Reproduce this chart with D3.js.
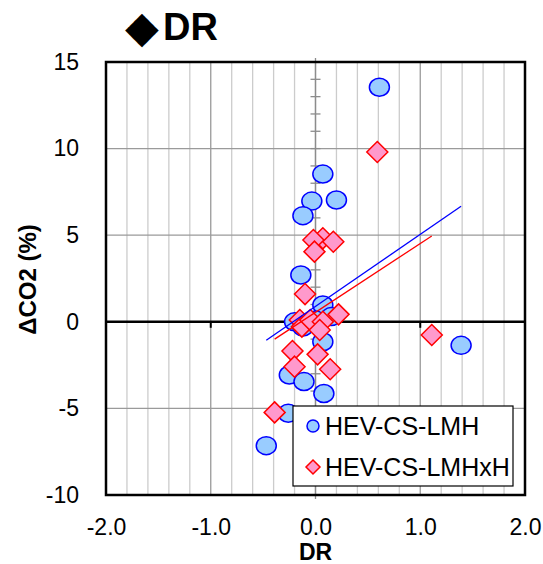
<!DOCTYPE html>
<html>
<head>
<meta charset="utf-8">
<script src="https://cdn.jsdelivr.net/npm/d3@7"></script>
<style>
	body { margin: 0; background: #fff; }
	text { font-family: "Liberation Sans", Arial, sans-serif; }
</style>
</head>
<body>
<svg id="chart" width="543" height="564"></svg>
<script>
// HEV-CS-LMH (circles)
let lmhX = [0.61, 0.07, 0.20, -0.035, -0.12, -0.14, 0.07, -0.20, -0.12, 0.00, 0.15, 0.07, -0.25, -0.11, 0.08, -0.26, -0.47, 1.39];
let lmhY = [13.54, 8.53, 7.03, 6.97, 6.13, 2.70, 0.97, 0.00, -0.30, 0.10, 0.30, -1.15, -3.07, -3.45, -4.14, -5.28, -7.15, -1.36];

// HEV-CS-LMHxH (diamonds)
let lmhxhX = [0.59, 0.07, -0.02, 0.17, -0.01, -0.10, -0.15, -0.13, -0.05, 0.07, 0.22, 0.04, 1.11, -0.22, 0.02, -0.20, 0.14, -0.39];
let lmhxhY = [9.80, 4.82, 4.72, 4.62, 4.05, 1.60, 0.10, -0.28, 0.10, 0.00, 0.43, -0.47, -0.76, -1.69, -1.88, -2.59, -2.74, -5.23];

// linear trend lines: [LMH, LMHxH]
let trendSlope = [4.16, 3.97];
let trendIntercept = [0.89, 0.55];

let seriesNames = ["HEV-CS-LMH", "HEV-CS-LMHxH"];
let xTickLabels = [-2, -1, 0, 1, 2];
let yTickLabels = [-10, -5, 0, 5, 10, 15];

let size = { w: 543, h: 564 };
let plot = { l: 106, r: 525, t: 62, b: 495 };

let svg = d3.select("#chart");

let x = d3.scaleLinear().domain([-2, 2]).range([plot.l, plot.r]);
let y = d3.scaleLinear().domain([-10, 15]).range([plot.b, plot.t]);

// title
svg.append("text")
	.attr("x", 125)
	.attr("y", 42)
	.attr("font-size", 44)
	.style("font-family", "'DejaVu Sans', sans-serif")
	.text("◆");
svg.append("text")
	.attr("x", 163)
	.attr("y", 40)
	.attr("font-size", 38)
	.attr("font-weight", "bold")
	.text("DR");

// vertical gridlines every 0.2, darker at whole numbers
svg.append("g")
	.selectAll("line")
	.data(x.ticks(20))
	.join("line")
	.attr("x1", (d) => x(d))
	.attr("x2", (d) => x(d))
	.attr("y1", plot.t)
	.attr("y2", plot.b)
	.attr("stroke", (d) => (Math.abs(d - Math.round(d)) < 1e-6 ? "#9a9a9a" : "#cccccc"))
	.attr("stroke-width", 1.3);

// horizontal gridlines every 5
svg.append("g")
	.selectAll("line")
	.data(yTickLabels)
	.join("line")
	.attr("x1", plot.l)
	.attr("x2", plot.r)
	.attr("y1", (d) => y(d))
	.attr("y2", (d) => y(d))
	.attr("stroke", "#9a9a9a")
	.attr("stroke-width", 1.3);

// y axis at x = 0 (gray, with minor ticks)
let yAxisG = svg.append("g");
yAxisG.append("line")
	.attr("x1", x(0))
	.attr("x2", x(0))
	.attr("y1", plot.t - 4)
	.attr("y2", plot.b + 4)
	.attr("stroke", "#8c8c8c")
	.attr("stroke-width", 1.3);
yAxisG.selectAll("line.tick")
	.data(y.ticks(25))
	.join("line")
	.classed("tick", true)
	.attr("x1", x(0) - 5)
	.attr("x2", x(0) + 5)
	.attr("y1", (d) => y(d))
	.attr("y2", (d) => y(d))
	.attr("stroke", "#8c8c8c")
	.attr("stroke-width", 1.3);

// x axis at y = 0
svg.append("line")
	.attr("x1", plot.l)
	.attr("x2", plot.r)
	.attr("y1", y(0))
	.attr("y2", y(0))
	.attr("stroke", "#000")
	.attr("stroke-width", 2.5);
svg.append("g")
	.selectAll("line")
	.data(xTickLabels.filter((d) => d !== 0))
	.join("line")
	.attr("x1", (d) => x(d))
	.attr("x2", (d) => x(d))
	.attr("y1", y(0))
	.attr("y2", y(0) + 6)
	.attr("stroke", "#000")
	.attr("stroke-width", 2);

// plot border
svg.append("rect")
	.attr("x", plot.l)
	.attr("y", plot.t)
	.attr("width", plot.r - plot.l)
	.attr("height", plot.b - plot.t)
	.attr("fill", "none")
	.attr("stroke", "#000")
	.attr("stroke-width", 2.5);

// tick labels (plain hyphen minus, like the original)
let yAxis = svg.append("g")
	.attr("transform", `translate(${plot.l - 27}, 0)`)
	.call(d3.axisLeft(y).tickValues(yTickLabels).tickSize(0).tickPadding(0).tickFormat((d) => String(d)));
yAxis.select(".domain").remove();
yAxis.selectAll("text")
	.attr("font-size", 23)
	.attr("fill", "#000")
	.style("font-family", "'Liberation Sans', Arial, sans-serif");

let xAxis = svg.append("g")
	.attr("transform", `translate(0, ${plot.b + 24})`)
	.call(d3.axisBottom(x).tickValues(xTickLabels).tickSize(0).tickPadding(0).tickFormat((d) => d.toFixed(1)));
xAxis.select(".domain").remove();
xAxis.selectAll("text")
	.attr("font-size", 23)
	.attr("fill", "#000")
	.style("font-family", "'Liberation Sans', Arial, sans-serif");

// axis titles
svg.append("text")
	.attr("x", x(0))
	.attr("y", 560)
	.attr("text-anchor", "middle")
	.attr("font-size", 23)
	.attr("font-weight", "bold")
	.text("DR");

svg.append("text")
	.attr("transform", `translate(36, ${(plot.t + plot.b) / 2 + 1}) rotate(-90)`)
	.attr("text-anchor", "middle")
	.attr("font-size", 24)
	.attr("font-weight", "bold")
	.text("ΔCO2 (%)");

// markers
let diamond = (r) => `M0,${-r}L${r},0L0,${r}L${-r},0Z`;

let lmh = lmhX.map((d, i) => ({ x: d, y: lmhY[i] }));
let lmhxh = lmhxhX.map((d, i) => ({ x: d, y: lmhxhY[i] }));

svg.append("g")
	.selectAll("ellipse")
	.data(lmh)
	.join("ellipse")
	.attr("cx", (d) => x(d.x))
	.attr("cy", (d) => y(d.y))
	.attr("rx", 10)
	.attr("ry", 9)
	.attr("fill", "#99ccff")
	.attr("stroke", "#0000ff")
	.attr("stroke-width", 1.5);

svg.append("g")
	.selectAll("path")
	.data(lmhxh)
	.join("path")
	.attr("d", diamond(10.5))
	.attr("transform", (d) => `translate(${x(d.x)}, ${y(d.y)})`)
	.attr("fill", "#ff99cc")
	.attr("stroke", "#ff0000")
	.attr("stroke-width", 1.5);

// trend lines over each series' x extent
let trendColors = ["#0000ff", "#ff0000"];
[lmh, lmhxh].forEach((series, i) => {
	let ext = d3.extent(series, (d) => d.x);
	svg.append("line")
		.attr("x1", x(ext[0]))
		.attr("y1", y(trendIntercept[i] + trendSlope[i] * ext[0]))
		.attr("x2", x(ext[1]))
		.attr("y2", y(trendIntercept[i] + trendSlope[i] * ext[1]))
		.attr("stroke", trendColors[i])
		.attr("stroke-width", 1.3);
});

// legend
let legendG = svg.append("g").attr("transform", "translate(293, 406)");
legendG.append("rect")
	.attr("width", 220)
	.attr("height", 80)
	.attr("fill", "#fff")
	.attr("stroke", "#000")
	.attr("stroke-width", 1.2);

legendG.append("ellipse")
	.attr("cx", 20)
	.attr("cy", 20)
	.attr("rx", 6)
	.attr("ry", 6)
	.attr("fill", "#99ccff")
	.attr("stroke", "#0000ff")
	.attr("stroke-width", 1.5);
legendG.append("path")
	.attr("d", diamond(7))
	.attr("transform", "translate(20, 61)")
	.attr("fill", "#ff99cc")
	.attr("stroke", "#ff0000")
	.attr("stroke-width", 1.5);

legendG.selectAll("text")
	.data(seriesNames)
	.join("text")
	.attr("x", 32)
	.attr("y", (d, i) => 29 + i * 41)
	.attr("font-size", 25)
	.text((d) => d);
</script>
</body>
</html>
